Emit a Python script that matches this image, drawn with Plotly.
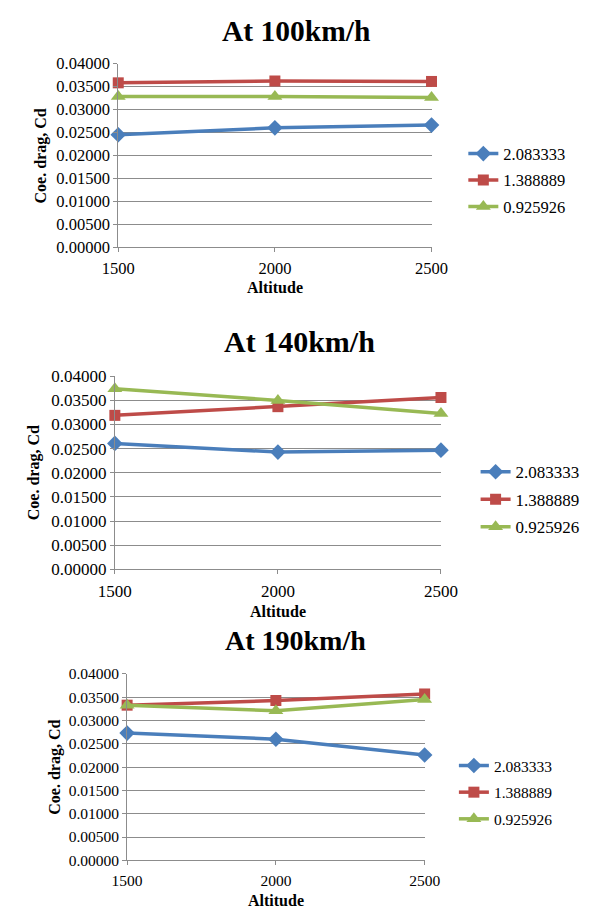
import plotly.graph_objects as go

altitudes = [1500, 2000, 2500]
series_names = ["2.083333", "1.388889", "0.925926"]
titles = ["At 100km/h", "At 140km/h", "At 190km/h"]

cd_100_a = [0.0245, 0.0260, 0.0266]
cd_100_b = [0.0358, 0.0362, 0.0361]
cd_100_c = [0.0328, 0.0328, 0.0326]
cd_140_a = [0.0261, 0.0243, 0.0247]
cd_140_b = [0.0319, 0.0337, 0.0356]
cd_140_c = [0.0374, 0.0350, 0.0323]
cd_190_a = [0.0273, 0.0260, 0.0226]
cd_190_b = [0.0333, 0.0343, 0.0357]
cd_190_c = [0.0333, 0.0321, 0.0345]

data = [
    [cd_100_a, cd_100_b, cd_100_c],
    [cd_140_a, cd_140_b, cd_140_c],
    [cd_190_a, cd_190_b, cd_190_c],
]

W, H = 603, 918
colors = ["#4a7ebb", "#be4b48", "#98b954"]
symbols = ["diamond", "square", "triangle-up"]
msizes = [12, 11, 13]
FONT = "Liberation Serif, Times New Roman, serif"
GRID = "#8c8c8c"

panels = [
    dict(xl=107.3, xr=439.3, yt=55.7, yb=243.3, fs=16.5, tfs=29.5, gap=2,
         tt=(296, 22), yti=(25, 150), xti=(273, 284), leg=(473, 175)),
    dict(xl=103.7, xr=449.3, yt=375, yb=572.3, fs=17, tfs=30, gap=2.4,
         tt=(299, 340), yti=(18, 473), xti=(277, 615), leg=(486, 501)),
    dict(xl=116.7, xr=432, yt=679, yb=869.3, fs=15.5, tfs=28, gap=3.5,
         tt=(295, 645), yti=(40, 774), xti=(274, 910), leg=(463, 800)),
]

fig = go.Figure()
annotations = []
layout = {}
for i, p in enumerate(panels):
    n = "" if i == 0 else str(i + 1)
    legname = "legend" + n
    for j in range(3):
        fig.add_trace(go.Scatter(
            x=altitudes, y=data[i][j], name=series_names[j], mode="lines+markers",
            xaxis="x" + n, yaxis="y" + n, legend=legname, legendgroup=f"g{i}{j}",
            line=dict(color=colors[j], width=3.5),
            marker=dict(symbol=symbols[j], size=msizes[j], color=colors[j]),
            cliponaxis=False,
        ))
    tickfont = dict(family=FONT, size=p["fs"], color="#000")
    layout["xaxis" + n] = dict(
        domain=[p["xl"] / W, p["xr"] / W], range=[1500, 2500], anchor="y" + n,
        tickvals=altitudes, ticks="outside", ticklen=4, tickcolor=GRID,
        showgrid=False, zeroline=False, showline=True, linecolor=GRID,
        tickfont=tickfont, ticklabelstandoff=2,
    )
    layout["yaxis" + n] = dict(
        domain=[1 - p["yb"] / H, 1 - p["yt"] / H], range=[0, 0.04], anchor="x" + n,
        dtick=0.005, tickformat=".5f", ticks="outside", ticklen=4, tickcolor=GRID,
        showgrid=True, gridcolor=GRID, gridwidth=1, zeroline=False,
        showline=True, linecolor=GRID, tickfont=tickfont,
    )
    layout[legname] = dict(
        x=p["leg"][0] / W, y=1 - p["leg"][1] / H, xanchor="left", yanchor="middle",
        font=tickfont, tracegroupgap=p["gap"], bgcolor="rgba(0,0,0,0)", itemwidth=30,
    )
    annotations.append(dict(text="<b>" + titles[i] + "</b>", x=p["tt"][0] / W, y=1 - p["tt"][1] / H,
                            xref="paper", yref="paper", showarrow=False, xanchor="center", yanchor="middle",
                            font=dict(family=FONT, size=p["tfs"], color="#000")))
    annotations.append(dict(text="<b>Coe. drag, Cd</b>", x=p["yti"][0] / W, y=1 - p["yti"][1] / H,
                            xref="paper", yref="paper", showarrow=False, textangle=-90,
                            xanchor="center", yanchor="middle",
                            font=dict(family=FONT, size=16, color="#000")))
    annotations.append(dict(text="<b>Altitude</b>", x=p["xti"][0] / W, y=1 - p["xti"][1] / H,
                            xref="paper", yref="paper", showarrow=False, xanchor="center", yanchor="middle",
                            font=dict(family=FONT, size=16, color="#000")))

fig.update_layout(
    width=W, height=H, margin=dict(l=0, r=0, t=0, b=0),
    paper_bgcolor="white", plot_bgcolor="white",
    annotations=annotations, **layout,
)
fig.write_html("out.html")
